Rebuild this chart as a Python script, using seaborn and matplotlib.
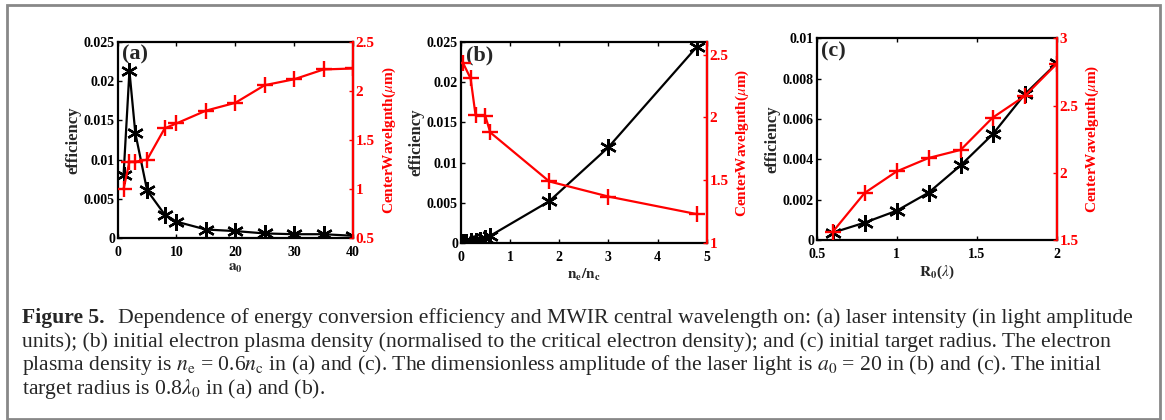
import numpy as np
import pandas as pd
import seaborn as sns
import matplotlib
matplotlib.use("Agg")
import matplotlib.pyplot as plt
from matplotlib.patches import Rectangle

# ---------------- data ----------------
a0_vals = [1, 2, 3, 5, 8, 10, 15, 20, 25, 30, 35, 40]
a_eff = [0.0080, 0.0213, 0.0134, 0.0061, 0.0030, 0.0021, 0.0011, 0.0009, 0.0006, 0.0005, 0.0005, 0.0003]
a_wl = [1.00, 1.28, 1.28, 1.30, 1.62, 1.67, 1.80, 1.88, 2.06, 2.12, 2.22, 2.23]

ne_eff_x = [0.05, 0.1, 0.2, 0.3, 0.4, 0.5, 0.6, 1.8, 3.0, 4.8]
ne_eff = [0.0001, 0.0001, 0.0002, 0.0003, 0.0004, 0.0006, 0.0009, 0.0052, 0.0119, 0.0244]
ne_wl_x = [0.05, 0.2, 0.3, 0.5, 0.6, 1.8, 3.0, 4.8]
ne_wl = [2.43, 2.31, 2.02, 2.01, 1.88, 1.49, 1.37, 1.23]

r0_vals = [0.6, 0.8, 1.0, 1.2, 1.4, 1.6, 1.8, 2.0]
r_eff = [0.00036, 0.00086, 0.00145, 0.00235, 0.0037, 0.00524, 0.00722, 0.00876]
r_wl = [1.56, 1.85, 2.01, 2.11, 2.17, 2.41, 2.57, 2.81]

panel_labels = ["(a)", "(b)", "(c)"]
x_labels = [r"$\mathbf{a_0}$", r"$\mathbf{n_e/n_c}$", r"$\mathbf{R_0}$($\lambda$)"]
y_label = "efficiency"
y2_label = r"CenterWavelgnth($\mu$m)"

caption_head = "Figure 5."
caption_lines = [
    "Dependence of energy conversion efficiency and MWIR central wavelength on: (a) laser intensity (in light amplitude",
    "units); (b) initial electron plasma density (normalised to the critical electron density); and (c) initial target radius. The electron",
    r"plasma density is $n_{\rm e}$ = 0.6$n_{\rm c}$ in (a) and (c). The dimensionless amplitude of the laser light is $a_0$ = 20 in (b) and (c). The initial",
    r"target radius is 0.8$\lambda_0$ in (a) and (b).",
]

# ---------------- style ----------------
sns.set_style("white")
plt.rcParams["font.family"] = ["Liberation Serif", "DejaVu Serif"]
plt.rcParams["mathtext.fontset"] = "stix"

fig = plt.figure(figsize=(11.65, 4.2), dpi=100)

panels = [
    dict(rect=[0.101, 0.433, 0.202, 0.467], x=a0_vals, y=a_eff, x2=a0_vals, y2=a_wl,
         xlim=(0, 40), xticks=[0, 10, 20, 30, 40], ylim=(0, 0.025),
         yticks=[0, 0.005, 0.01, 0.015, 0.02, 0.025], y2lim=(0.5, 2.5),
         y2ticks=[0.5, 1, 1.5, 2, 2.5]),
    dict(rect=[0.3955, 0.4214, 0.2111, 0.4786], x=ne_eff_x, y=ne_eff, x2=ne_wl_x, y2=ne_wl,
         xlim=(0, 5), xticks=[0, 1, 2, 3, 4, 5], ylim=(0, 0.025),
         yticks=[0, 0.005, 0.01, 0.015, 0.02, 0.025], y2lim=(1, 2.6),
         y2ticks=[1, 1.5, 2, 2.5]),
    dict(rect=[0.701, 0.4286, 0.206, 0.4802], x=r0_vals, y=r_eff, x2=r0_vals, y2=r_wl,
         xlim=(0.5, 2), xticks=[0.5, 1, 1.5, 2], ylim=(0, 0.01),
         yticks=[0, 0.002, 0.004, 0.006, 0.008, 0.01], y2lim=(1.5, 3),
         y2ticks=[1.5, 2, 2.5, 3]),
]

asterisk = (6, 2, 0)
tick_fs = 10

def fmt(v):
    return "%g" % v

for i, p in enumerate(panels):
    ax = fig.add_axes(p["rect"])
    sns.lineplot(x=p["x"], y=p["y"], ax=ax, color="black", lw=1.6,
                 marker=asterisk, markersize=12, markeredgewidth=1.7,
                 markeredgecolor="black", estimator=None, sort=False)
    ax.set_xlim(*p["xlim"])
    ax.set_ylim(*p["ylim"])
    ax.set_xticks(p["xticks"])
    ax.set_xticklabels([fmt(v) for v in p["xticks"]], fontsize=tick_fs, fontweight="bold")
    ax.set_yticks(p["yticks"])
    ax.set_yticklabels([fmt(v) for v in p["yticks"]], fontsize=tick_fs, fontweight="bold")
    ax.tick_params(direction="in", length=3, width=1, top=True, bottom=True, left=True,
                   right=False, colors="black")
    ax.tick_params(axis="x", pad=5.5)
    ax.tick_params(axis="y", pad=2)
    for s in ax.spines.values():
        s.set_linewidth(1.6)
        s.set_color("black")
    ax.set_xlabel(x_labels[i], fontsize=11, fontweight="bold", labelpad=2)
    ax.set_ylabel(y_label, fontsize=12, fontweight="bold", labelpad=2)
    ax.text(0.02, 0.985, panel_labels[i], transform=ax.transAxes, fontsize=16,
            fontweight="bold", va="top", ha="left")

    ax2 = ax.twinx()
    sns.lineplot(x=p["x2"], y=p["y2"], ax=ax2, color="red", lw=1.6,
                 marker="+", markersize=12, markeredgewidth=1.7,
                 markeredgecolor="red", estimator=None, sort=False)
    ax2.set_ylim(*p["y2lim"])
    ax2.set_yticks(p["y2ticks"])
    ax2.set_yticklabels([fmt(v) for v in p["y2ticks"]], fontsize=tick_fs + 1,
                        fontweight="bold", color="red")
    ax2.tick_params(axis="y", direction="in", length=3, width=1, colors="red", pad=2)
    for k in ["left", "top", "bottom"]:
        ax2.spines[k].set_visible(False)
    ax2.spines["right"].set_color("red")
    ax2.spines["right"].set_linewidth(1.6)
    ax2.set_ylabel(y2_label, fontsize=11, fontweight="bold", color="red", labelpad=4)
    ax2.set_xlim(*p["xlim"])

# ---------------- caption ----------------
cap_fs = 15.6
ys = [318, 342, 365, 389]
fig.text(22 / 1165, 1 - ys[0] / 420, caption_head, fontsize=cap_fs,
         fontweight="bold", va="center", ha="left")
fig.text(118 / 1165, 1 - ys[0] / 420, caption_lines[0], fontsize=cap_fs,
         va="center", ha="left")
for y, line in zip(ys[1:], caption_lines[1:]):
    fig.text(22 / 1165, 1 - y / 420, line, fontsize=cap_fs, va="center", ha="left")

# frame box
fig.patches.append(Rectangle((7 / 1165, 1 / 420), 1153 / 1165, 414 / 420,
                             transform=fig.transFigure, fill=False,
                             edgecolor="#888888", lw=2))

fig.savefig("out.png", dpi=100)
